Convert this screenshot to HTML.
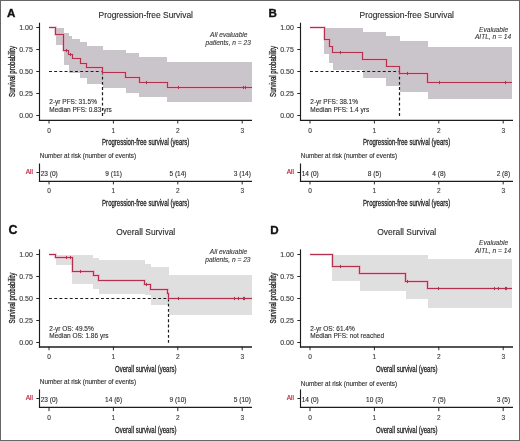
<!DOCTYPE html>
<html><head><meta charset="utf-8"><style>
html,body{margin:0;padding:0;background:#fff;}
svg{display:block;will-change:transform;}
text{font-family:"Liberation Sans", sans-serif;}
</style></head><body>
<svg width="520" height="441" viewBox="0 0 520 441">
<rect x="0" y="0" width="520" height="441" fill="#fff"/>
<path d="M56,28 H64 V45 H56 Z M64,33 H69 V65 H64 Z M69,36 H72 V73 H69 Z M72,39 H80 V73 H72 Z M80,42 H87 V78 H80 Z M87,46 H103 V84 H87 Z M103,50 H126 V88 H103 Z M126,53 H139 V93 H126 Z M139,57 H167 V97 H139 Z M167,62 H252 V102 H167 Z" fill="#c9c5ca"/>
<path d="M49.00,71.50 H102.50" fill="none" stroke="#1c1c1c" stroke-width="1.2" stroke-dasharray="2.9 2.3"/>
<path d="M102.50,71.50 V116.00" fill="none" stroke="#1c1c1c" stroke-width="1.2" stroke-dasharray="2.9 2.3"/>
<path d="M49.00,27.50 H55.50 V34.50 H63.50 V50.50 H68.50 V54.50 H72.50 V58.50 H80.50 V63.50 H86.50 V67.50 H102.50 V72.50 H125.50 V77.50 H139.50 V82.50 H167.50 V87.50 H252.00" fill="none" stroke="#f0a0b6" stroke-width="3.0" stroke-opacity="0.45"/>
<path d="M49.00,27.50 H55.50 V34.50 H63.50 V50.50 H68.50 V54.50 H72.50 V58.50 H80.50 V63.50 H86.50 V67.50 H102.50 V72.50 H125.50 V77.50 H139.50 V82.50 H167.50 V87.50 H252.00" fill="none" stroke="#b4304e" stroke-width="1.1"/>
<path d="M66.50,48.90 V52.10 M70.50,52.90 V56.10 M146.50,80.90 V84.10 M178.50,85.90 V89.10 M243.50,85.90 V89.10 M245.50,85.90 V89.10 " fill="none" stroke="#b4304e" stroke-width="1"/>
<path d="M39.50,22.70 V120.90" fill="none" stroke="#1c1c1c" stroke-width="1.15"/>
<path d="M38.95,120.30 H252.00" fill="none" stroke="#1c1c1c" stroke-width="1.3"/>
<path d="M36.30,27.50 H39.50 M36.30,49.50 H39.50 M36.30,71.50 H39.50 M36.30,93.50 H39.50 M36.30,115.50 H39.50 M49.00,120.00 V123.50 M113.40,120.00 V123.50 M177.80,120.00 V123.50 M242.20,120.00 V123.50 " fill="none" stroke="#1c1c1c" stroke-width="0.95"/>
<text x="32.80" y="29.85" text-anchor="end" font-size="7.00" fill="#383838" stroke="#383838" stroke-width="0.12">1.00</text>
<text x="32.80" y="51.85" text-anchor="end" font-size="7.00" fill="#383838" stroke="#383838" stroke-width="0.12">0.75</text>
<text x="32.80" y="73.85" text-anchor="end" font-size="7.00" fill="#383838" stroke="#383838" stroke-width="0.12">0.50</text>
<text x="32.80" y="95.85" text-anchor="end" font-size="7.00" fill="#383838" stroke="#383838" stroke-width="0.12">0.25</text>
<text x="32.80" y="117.85" text-anchor="end" font-size="7.00" fill="#383838" stroke="#383838" stroke-width="0.12">0.00</text>
<text x="49.00" y="132.60" text-anchor="middle" font-size="6.50" fill="#383838" stroke="#383838" stroke-width="0.12">0</text>
<text x="113.40" y="132.60" text-anchor="middle" font-size="6.50" fill="#383838" stroke="#383838" stroke-width="0.12">1</text>
<text x="177.80" y="132.60" text-anchor="middle" font-size="6.50" fill="#383838" stroke="#383838" stroke-width="0.12">2</text>
<text x="242.20" y="132.60" text-anchor="middle" font-size="6.50" fill="#383838" stroke="#383838" stroke-width="0.12">3</text>
<text transform="translate(14.60,71.50) rotate(-90)" text-anchor="middle" font-size="8.6" fill="#1e1e1e" stroke="#1e1e1e" stroke-width="0.3" textLength="50.8" lengthAdjust="spacingAndGlyphs">Survival probability</text>
<text x="145.70" y="145.00" text-anchor="middle" font-size="9.0" fill="#1e1e1e" stroke="#1e1e1e" stroke-width="0.3" textLength="87.2" lengthAdjust="spacingAndGlyphs">Progression-free survival (years)</text>
<text x="49.30" y="103.80" font-size="6.50" fill="#2e2e2e" stroke="#2e2e2e" stroke-width="0.12">2-yr PFS: 31.5%</text>
<text x="49.30" y="111.70" font-size="6.50" fill="#2e2e2e" stroke="#2e2e2e" stroke-width="0.12">Median PFS: 0.83 yrs</text>
<text x="39.80" y="157.60" font-size="6.35" fill="#2e2e2e" stroke="#2e2e2e" stroke-width="0.12">Number at risk (number of events)</text>
<path d="M39.50,163.50 V181.90" fill="none" stroke="#1c1c1c" stroke-width="1.15"/>
<path d="M38.95,181.30 H252.00" fill="none" stroke="#1c1c1c" stroke-width="1.3"/>
<path d="M36.40,172.50 H39.50 M49.00,181.30 V184.40 M113.40,181.30 V184.40 M177.80,181.30 V184.40 M242.20,181.30 V184.40 " fill="none" stroke="#1c1c1c" stroke-width="0.95"/>
<text x="33.00" y="174.00" text-anchor="end" font-size="6.50" fill="#b8142e" stroke="#b8142e" stroke-width="0.12">All</text>
<text x="49.20" y="176.40" text-anchor="middle" font-size="6.55" fill="#2e2e2e" stroke="#2e2e2e" stroke-width="0.12">23 (0)</text>
<text x="113.60" y="176.40" text-anchor="middle" font-size="6.55" fill="#2e2e2e" stroke="#2e2e2e" stroke-width="0.12">9 (11)</text>
<text x="178.00" y="176.40" text-anchor="middle" font-size="6.55" fill="#2e2e2e" stroke="#2e2e2e" stroke-width="0.12">5 (14)</text>
<text x="242.40" y="176.40" text-anchor="middle" font-size="6.55" fill="#2e2e2e" stroke="#2e2e2e" stroke-width="0.12">3 (14)</text>
<text x="49.00" y="193.30" text-anchor="middle" font-size="6.50" fill="#383838" stroke="#383838" stroke-width="0.12">0</text>
<text x="113.40" y="193.30" text-anchor="middle" font-size="6.50" fill="#383838" stroke="#383838" stroke-width="0.12">1</text>
<text x="177.80" y="193.30" text-anchor="middle" font-size="6.50" fill="#383838" stroke="#383838" stroke-width="0.12">2</text>
<text x="242.20" y="193.30" text-anchor="middle" font-size="6.50" fill="#383838" stroke="#383838" stroke-width="0.12">3</text>
<text x="145.70" y="205.90" text-anchor="middle" font-size="9.0" fill="#1e1e1e" stroke="#1e1e1e" stroke-width="0.3" textLength="87.2" lengthAdjust="spacingAndGlyphs">Progression-free survival (years)</text>
<text x="7.00" y="17.00" font-size="11.6" font-weight="bold" fill="#111" stroke="#111" stroke-width="0.35">A</text>
<text x="145.75" y="17.70" text-anchor="middle" font-size="8.42" fill="#2a2a2a" stroke="#2a2a2a" stroke-width="0.12">Progression-free Survival</text>
<text x="228.80" y="36.60" text-anchor="middle" font-size="6.60" fill="#383838" stroke="#383838" stroke-width="0.12" font-style="italic">All evaluable</text>
<text x="228.20" y="44.60" text-anchor="middle" font-size="6.60" fill="#383838" stroke="#383838" stroke-width="0.12" font-style="italic">patients, n = 23</text>
<path d="M324,28 H329 V54 H324 Z M329,28 H333 V63 H329 Z M333,28 H363 V70 H333 Z M363,32 H386 V78 H363 Z M386,36 H400 V86 H386 Z M400,41 H428 V92 H400 Z M428,47 H512 V99 H428 Z" fill="#c9c5ca"/>
<path d="M310.00,71.50 H399.50" fill="none" stroke="#1c1c1c" stroke-width="1.2" stroke-dasharray="2.9 2.3"/>
<path d="M399.50,71.50 V116.00" fill="none" stroke="#1c1c1c" stroke-width="1.2" stroke-dasharray="2.9 2.3"/>
<path d="M310.00,27.50 H324.50 V39.50 H329.50 V46.50 H332.50 V52.50 H362.50 V59.50 H386.50 V66.50 H399.50 V73.50 H427.50 V82.50 H512.00" fill="none" stroke="#f0a0b6" stroke-width="3.0" stroke-opacity="0.45"/>
<path d="M310.00,27.50 H324.50 V39.50 H329.50 V46.50 H332.50 V52.50 H362.50 V59.50 H386.50 V66.50 H399.50 V73.50 H427.50 V82.50 H512.00" fill="none" stroke="#b4304e" stroke-width="1.1"/>
<path d="M340.50,50.90 V54.10 M407.50,71.90 V75.10 M439.50,80.90 V84.10 M505.50,80.90 V84.10 " fill="none" stroke="#b4304e" stroke-width="1"/>
<path d="M300.50,22.70 V120.90" fill="none" stroke="#1c1c1c" stroke-width="1.15"/>
<path d="M299.95,120.30 H513.00" fill="none" stroke="#1c1c1c" stroke-width="1.3"/>
<path d="M297.30,27.50 H300.50 M297.30,49.50 H300.50 M297.30,71.50 H300.50 M297.30,93.50 H300.50 M297.30,115.50 H300.50 M310.00,120.00 V123.50 M374.40,120.00 V123.50 M438.80,120.00 V123.50 M503.20,120.00 V123.50 " fill="none" stroke="#1c1c1c" stroke-width="0.95"/>
<text x="293.80" y="29.85" text-anchor="end" font-size="7.00" fill="#383838" stroke="#383838" stroke-width="0.12">1.00</text>
<text x="293.80" y="51.85" text-anchor="end" font-size="7.00" fill="#383838" stroke="#383838" stroke-width="0.12">0.75</text>
<text x="293.80" y="73.85" text-anchor="end" font-size="7.00" fill="#383838" stroke="#383838" stroke-width="0.12">0.50</text>
<text x="293.80" y="95.85" text-anchor="end" font-size="7.00" fill="#383838" stroke="#383838" stroke-width="0.12">0.25</text>
<text x="293.80" y="117.85" text-anchor="end" font-size="7.00" fill="#383838" stroke="#383838" stroke-width="0.12">0.00</text>
<text x="310.00" y="132.60" text-anchor="middle" font-size="6.50" fill="#383838" stroke="#383838" stroke-width="0.12">0</text>
<text x="374.40" y="132.60" text-anchor="middle" font-size="6.50" fill="#383838" stroke="#383838" stroke-width="0.12">1</text>
<text x="438.80" y="132.60" text-anchor="middle" font-size="6.50" fill="#383838" stroke="#383838" stroke-width="0.12">2</text>
<text x="503.20" y="132.60" text-anchor="middle" font-size="6.50" fill="#383838" stroke="#383838" stroke-width="0.12">3</text>
<text transform="translate(275.60,71.50) rotate(-90)" text-anchor="middle" font-size="8.6" fill="#1e1e1e" stroke="#1e1e1e" stroke-width="0.3" textLength="50.8" lengthAdjust="spacingAndGlyphs">Survival probability</text>
<text x="406.70" y="145.00" text-anchor="middle" font-size="9.0" fill="#1e1e1e" stroke="#1e1e1e" stroke-width="0.3" textLength="87.2" lengthAdjust="spacingAndGlyphs">Progression-free survival (years)</text>
<text x="310.30" y="103.80" font-size="6.50" fill="#2e2e2e" stroke="#2e2e2e" stroke-width="0.12">2-yr PFS: 38.1%</text>
<text x="310.30" y="111.70" font-size="6.50" fill="#2e2e2e" stroke="#2e2e2e" stroke-width="0.12">Median PFS: 1.4 yrs</text>
<text x="300.80" y="157.60" font-size="6.35" fill="#2e2e2e" stroke="#2e2e2e" stroke-width="0.12">Number at risk (number of events)</text>
<path d="M300.50,163.50 V181.90" fill="none" stroke="#1c1c1c" stroke-width="1.15"/>
<path d="M299.95,181.30 H513.00" fill="none" stroke="#1c1c1c" stroke-width="1.3"/>
<path d="M297.40,172.50 H300.50 M310.00,181.30 V184.40 M374.40,181.30 V184.40 M438.80,181.30 V184.40 M503.20,181.30 V184.40 " fill="none" stroke="#1c1c1c" stroke-width="0.95"/>
<text x="294.00" y="174.00" text-anchor="end" font-size="6.50" fill="#b8142e" stroke="#b8142e" stroke-width="0.12">All</text>
<text x="310.20" y="176.40" text-anchor="middle" font-size="6.55" fill="#2e2e2e" stroke="#2e2e2e" stroke-width="0.12">14 (0)</text>
<text x="374.60" y="176.40" text-anchor="middle" font-size="6.55" fill="#2e2e2e" stroke="#2e2e2e" stroke-width="0.12">8 (5)</text>
<text x="439.00" y="176.40" text-anchor="middle" font-size="6.55" fill="#2e2e2e" stroke="#2e2e2e" stroke-width="0.12">4 (8)</text>
<text x="503.40" y="176.40" text-anchor="middle" font-size="6.55" fill="#2e2e2e" stroke="#2e2e2e" stroke-width="0.12">2 (8)</text>
<text x="310.00" y="193.30" text-anchor="middle" font-size="6.50" fill="#383838" stroke="#383838" stroke-width="0.12">0</text>
<text x="374.40" y="193.30" text-anchor="middle" font-size="6.50" fill="#383838" stroke="#383838" stroke-width="0.12">1</text>
<text x="438.80" y="193.30" text-anchor="middle" font-size="6.50" fill="#383838" stroke="#383838" stroke-width="0.12">2</text>
<text x="503.20" y="193.30" text-anchor="middle" font-size="6.50" fill="#383838" stroke="#383838" stroke-width="0.12">3</text>
<text x="406.70" y="205.90" text-anchor="middle" font-size="9.0" fill="#1e1e1e" stroke="#1e1e1e" stroke-width="0.3" textLength="87.2" lengthAdjust="spacingAndGlyphs">Progression-free survival (years)</text>
<text x="268.60" y="17.00" font-size="11.6" font-weight="bold" fill="#111" stroke="#111" stroke-width="0.35">B</text>
<text x="406.75" y="17.70" text-anchor="middle" font-size="8.42" fill="#2a2a2a" stroke="#2a2a2a" stroke-width="0.12">Progression-free Survival</text>
<text x="493.60" y="31.70" text-anchor="middle" font-size="6.60" fill="#383838" stroke="#383838" stroke-width="0.12" font-style="italic">Evaluable</text>
<text x="493.00" y="39.20" text-anchor="middle" font-size="6.60" fill="#383838" stroke="#383838" stroke-width="0.12" font-style="italic">AITL, n = 14</text>
<path d="M56,255 H72 V265 H56 Z M72,255 H93 V284 H72 Z M93,258 H99 V289 H93 Z M99,260 H145 V294 H99 Z M145,264 H151 V295 H145 Z M151,267 H169 V305 H151 Z M169,275 H252 V315 H169 Z" fill="#e0dfe0"/>
<path d="M49.00,298.50 H168.80" fill="none" stroke="#1c1c1c" stroke-width="1.2" stroke-dasharray="2.9 2.3"/>
<path d="M168.50,298.50 V342.70" fill="none" stroke="#1c1c1c" stroke-width="1.2" stroke-dasharray="2.9 2.3"/>
<path d="M49.00,254.50 H55.50 V257.50 H72.50 V271.50 H93.50 V275.50 H98.50 V280.50 H144.50 V284.50 H150.50 V289.50 H167.50 V293.50 H168.50 V298.50 H252.00" fill="none" stroke="#f0a0b6" stroke-width="3.0" stroke-opacity="0.45"/>
<path d="M49.00,254.50 H55.50 V257.50 H72.50 V271.50 H93.50 V275.50 H98.50 V280.50 H144.50 V284.50 H150.50 V289.50 H167.50 V293.50 H168.50 V298.50 H252.00" fill="none" stroke="#b4304e" stroke-width="1.1"/>
<path d="M66.50,255.90 V259.10 M70.50,255.90 V259.10 M80.50,269.90 V273.10 M146.50,282.90 V286.10 M178.50,296.90 V300.10 M234.50,296.90 V300.10 M238.50,296.90 V300.10 M243.50,296.90 V300.10 M244.50,296.90 V300.10 " fill="none" stroke="#b4304e" stroke-width="1"/>
<path d="M39.50,249.40 V347.60" fill="none" stroke="#1c1c1c" stroke-width="1.15"/>
<path d="M38.95,347.00 H252.00" fill="none" stroke="#1c1c1c" stroke-width="1.3"/>
<path d="M36.30,254.50 H39.50 M36.30,276.50 H39.50 M36.30,298.50 H39.50 M36.30,320.50 H39.50 M36.30,342.50 H39.50 M49.00,346.70 V350.20 M113.40,346.70 V350.20 M177.80,346.70 V350.20 M242.20,346.70 V350.20 " fill="none" stroke="#1c1c1c" stroke-width="0.95"/>
<text x="32.80" y="256.55" text-anchor="end" font-size="7.00" fill="#383838" stroke="#383838" stroke-width="0.12">1.00</text>
<text x="32.80" y="278.55" text-anchor="end" font-size="7.00" fill="#383838" stroke="#383838" stroke-width="0.12">0.75</text>
<text x="32.80" y="300.55" text-anchor="end" font-size="7.00" fill="#383838" stroke="#383838" stroke-width="0.12">0.50</text>
<text x="32.80" y="322.55" text-anchor="end" font-size="7.00" fill="#383838" stroke="#383838" stroke-width="0.12">0.25</text>
<text x="32.80" y="344.55" text-anchor="end" font-size="7.00" fill="#383838" stroke="#383838" stroke-width="0.12">0.00</text>
<text x="49.00" y="359.30" text-anchor="middle" font-size="6.50" fill="#383838" stroke="#383838" stroke-width="0.12">0</text>
<text x="113.40" y="359.30" text-anchor="middle" font-size="6.50" fill="#383838" stroke="#383838" stroke-width="0.12">1</text>
<text x="177.80" y="359.30" text-anchor="middle" font-size="6.50" fill="#383838" stroke="#383838" stroke-width="0.12">2</text>
<text x="242.20" y="359.30" text-anchor="middle" font-size="6.50" fill="#383838" stroke="#383838" stroke-width="0.12">3</text>
<text transform="translate(14.60,298.20) rotate(-90)" text-anchor="middle" font-size="8.6" fill="#1e1e1e" stroke="#1e1e1e" stroke-width="0.3" textLength="50.8" lengthAdjust="spacingAndGlyphs">Survival probability</text>
<text x="145.70" y="371.70" text-anchor="middle" font-size="9.0" fill="#1e1e1e" stroke="#1e1e1e" stroke-width="0.3" textLength="61.4" lengthAdjust="spacingAndGlyphs">Overall survival (years)</text>
<text x="49.30" y="330.50" font-size="6.50" fill="#2e2e2e" stroke="#2e2e2e" stroke-width="0.12">2-yr OS: 49.5%</text>
<text x="49.30" y="338.40" font-size="6.50" fill="#2e2e2e" stroke="#2e2e2e" stroke-width="0.12">Median OS: 1.86 yrs</text>
<text x="39.80" y="384.30" font-size="6.35" fill="#2e2e2e" stroke="#2e2e2e" stroke-width="0.12">Number at risk (number of events)</text>
<path d="M39.50,389.40 V408.00" fill="none" stroke="#1c1c1c" stroke-width="1.15"/>
<path d="M38.95,407.40 H252.00" fill="none" stroke="#1c1c1c" stroke-width="1.3"/>
<path d="M36.40,398.50 H39.50 M49.00,407.40 V411.10 M113.40,407.40 V411.10 M177.80,407.40 V411.10 M242.20,407.40 V411.10 " fill="none" stroke="#1c1c1c" stroke-width="0.95"/>
<text x="33.00" y="399.90" text-anchor="end" font-size="6.50" fill="#b8142e" stroke="#b8142e" stroke-width="0.12">All</text>
<text x="49.20" y="402.30" text-anchor="middle" font-size="6.55" fill="#2e2e2e" stroke="#2e2e2e" stroke-width="0.12">23 (0)</text>
<text x="113.60" y="402.30" text-anchor="middle" font-size="6.55" fill="#2e2e2e" stroke="#2e2e2e" stroke-width="0.12">14 (6)</text>
<text x="178.00" y="402.30" text-anchor="middle" font-size="6.55" fill="#2e2e2e" stroke="#2e2e2e" stroke-width="0.12">9 (10)</text>
<text x="242.40" y="402.30" text-anchor="middle" font-size="6.55" fill="#2e2e2e" stroke="#2e2e2e" stroke-width="0.12">5 (10)</text>
<text x="49.00" y="420.00" text-anchor="middle" font-size="6.50" fill="#383838" stroke="#383838" stroke-width="0.12">0</text>
<text x="113.40" y="420.00" text-anchor="middle" font-size="6.50" fill="#383838" stroke="#383838" stroke-width="0.12">1</text>
<text x="177.80" y="420.00" text-anchor="middle" font-size="6.50" fill="#383838" stroke="#383838" stroke-width="0.12">2</text>
<text x="242.20" y="420.00" text-anchor="middle" font-size="6.50" fill="#383838" stroke="#383838" stroke-width="0.12">3</text>
<text x="145.70" y="432.60" text-anchor="middle" font-size="9.0" fill="#1e1e1e" stroke="#1e1e1e" stroke-width="0.3" textLength="61.4" lengthAdjust="spacingAndGlyphs">Overall survival (years)</text>
<text x="8.60" y="233.80" font-size="12.4" font-weight="bold" fill="#111" stroke="#111" stroke-width="0.35">C</text>
<text x="145.75" y="234.50" text-anchor="middle" font-size="8.42" fill="#2a2a2a" stroke="#2a2a2a" stroke-width="0.12">Overall Survival</text>
<text x="228.50" y="253.90" text-anchor="middle" font-size="6.60" fill="#383838" stroke="#383838" stroke-width="0.12" font-style="italic">All evaluable</text>
<text x="227.90" y="262.10" text-anchor="middle" font-size="6.60" fill="#383838" stroke="#383838" stroke-width="0.12" font-style="italic">patients, n = 23</text>
<path d="M332,255 H360 V281 H332 Z M360,255 H406 V291 H360 Z M406,255 H428 V299 H406 Z M428,259 H512 V308 H428 Z" fill="#e0dfe0"/>
<path d="M310.00,254.50 H332.50 V266.50 H359.50 V273.50 H405.50 V281.50 H427.50 V288.50 H512.00" fill="none" stroke="#f0a0b6" stroke-width="3.0" stroke-opacity="0.45"/>
<path d="M310.00,254.50 H332.50 V266.50 H359.50 V273.50 H405.50 V281.50 H427.50 V288.50 H512.00" fill="none" stroke="#b4304e" stroke-width="1.1"/>
<path d="M340.50,264.90 V268.10 M407.50,279.90 V283.10 M438.50,286.90 V290.10 M494.50,286.90 V290.10 M498.50,286.90 V290.10 M505.50,286.90 V290.10 M506.50,286.90 V290.10 " fill="none" stroke="#b4304e" stroke-width="1"/>
<path d="M300.50,249.40 V347.60" fill="none" stroke="#1c1c1c" stroke-width="1.15"/>
<path d="M299.95,347.00 H513.00" fill="none" stroke="#1c1c1c" stroke-width="1.3"/>
<path d="M297.30,254.50 H300.50 M297.30,276.50 H300.50 M297.30,298.50 H300.50 M297.30,320.50 H300.50 M297.30,342.50 H300.50 M310.00,346.70 V350.20 M374.40,346.70 V350.20 M438.80,346.70 V350.20 M503.20,346.70 V350.20 " fill="none" stroke="#1c1c1c" stroke-width="0.95"/>
<text x="293.80" y="256.55" text-anchor="end" font-size="7.00" fill="#383838" stroke="#383838" stroke-width="0.12">1.00</text>
<text x="293.80" y="278.55" text-anchor="end" font-size="7.00" fill="#383838" stroke="#383838" stroke-width="0.12">0.75</text>
<text x="293.80" y="300.55" text-anchor="end" font-size="7.00" fill="#383838" stroke="#383838" stroke-width="0.12">0.50</text>
<text x="293.80" y="322.55" text-anchor="end" font-size="7.00" fill="#383838" stroke="#383838" stroke-width="0.12">0.25</text>
<text x="293.80" y="344.55" text-anchor="end" font-size="7.00" fill="#383838" stroke="#383838" stroke-width="0.12">0.00</text>
<text x="310.00" y="359.30" text-anchor="middle" font-size="6.50" fill="#383838" stroke="#383838" stroke-width="0.12">0</text>
<text x="374.40" y="359.30" text-anchor="middle" font-size="6.50" fill="#383838" stroke="#383838" stroke-width="0.12">1</text>
<text x="438.80" y="359.30" text-anchor="middle" font-size="6.50" fill="#383838" stroke="#383838" stroke-width="0.12">2</text>
<text x="503.20" y="359.30" text-anchor="middle" font-size="6.50" fill="#383838" stroke="#383838" stroke-width="0.12">3</text>
<text transform="translate(275.60,298.20) rotate(-90)" text-anchor="middle" font-size="8.6" fill="#1e1e1e" stroke="#1e1e1e" stroke-width="0.3" textLength="50.8" lengthAdjust="spacingAndGlyphs">Survival probability</text>
<text x="406.70" y="371.70" text-anchor="middle" font-size="9.0" fill="#1e1e1e" stroke="#1e1e1e" stroke-width="0.3" textLength="61.4" lengthAdjust="spacingAndGlyphs">Overall survival (years)</text>
<text x="310.30" y="330.50" font-size="6.50" fill="#2e2e2e" stroke="#2e2e2e" stroke-width="0.12">2-yr OS: 61.4%</text>
<text x="310.30" y="338.40" font-size="6.50" fill="#2e2e2e" stroke="#2e2e2e" stroke-width="0.12">Median PFS: not reached</text>
<text x="300.80" y="385.70" font-size="6.35" fill="#2e2e2e" stroke="#2e2e2e" stroke-width="0.12">Number at risk (number of events)</text>
<path d="M300.50,389.40 V408.00" fill="none" stroke="#1c1c1c" stroke-width="1.15"/>
<path d="M299.95,407.40 H513.00" fill="none" stroke="#1c1c1c" stroke-width="1.3"/>
<path d="M297.40,398.50 H300.50 M310.00,407.40 V411.10 M374.40,407.40 V411.10 M438.80,407.40 V411.10 M503.20,407.40 V411.10 " fill="none" stroke="#1c1c1c" stroke-width="0.95"/>
<text x="294.00" y="399.90" text-anchor="end" font-size="6.50" fill="#b8142e" stroke="#b8142e" stroke-width="0.12">All</text>
<text x="310.20" y="402.30" text-anchor="middle" font-size="6.55" fill="#2e2e2e" stroke="#2e2e2e" stroke-width="0.12">14 (0)</text>
<text x="374.60" y="402.30" text-anchor="middle" font-size="6.55" fill="#2e2e2e" stroke="#2e2e2e" stroke-width="0.12">10 (3)</text>
<text x="439.00" y="402.30" text-anchor="middle" font-size="6.55" fill="#2e2e2e" stroke="#2e2e2e" stroke-width="0.12">7 (5)</text>
<text x="503.40" y="402.30" text-anchor="middle" font-size="6.55" fill="#2e2e2e" stroke="#2e2e2e" stroke-width="0.12">3 (5)</text>
<text x="310.00" y="420.00" text-anchor="middle" font-size="6.50" fill="#383838" stroke="#383838" stroke-width="0.12">0</text>
<text x="374.40" y="420.00" text-anchor="middle" font-size="6.50" fill="#383838" stroke="#383838" stroke-width="0.12">1</text>
<text x="438.80" y="420.00" text-anchor="middle" font-size="6.50" fill="#383838" stroke="#383838" stroke-width="0.12">2</text>
<text x="503.20" y="420.00" text-anchor="middle" font-size="6.50" fill="#383838" stroke="#383838" stroke-width="0.12">3</text>
<text x="406.70" y="432.60" text-anchor="middle" font-size="9.0" fill="#1e1e1e" stroke="#1e1e1e" stroke-width="0.3" textLength="61.4" lengthAdjust="spacingAndGlyphs">Overall survival (years)</text>
<text x="270.20" y="233.50" font-size="11.6" font-weight="bold" fill="#111" stroke="#111" stroke-width="0.35">D</text>
<text x="406.75" y="234.50" text-anchor="middle" font-size="8.42" fill="#2a2a2a" stroke="#2a2a2a" stroke-width="0.12">Overall Survival</text>
<text x="493.60" y="245.10" text-anchor="middle" font-size="6.60" fill="#383838" stroke="#383838" stroke-width="0.12" font-style="italic">Evaluable</text>
<text x="493.00" y="252.80" text-anchor="middle" font-size="6.60" fill="#383838" stroke="#383838" stroke-width="0.12" font-style="italic">AITL, n = 14</text>
<rect x="0.5" y="0.5" width="519" height="440" fill="none" stroke="#676767" stroke-width="1"/>
</svg>
</body></html>
